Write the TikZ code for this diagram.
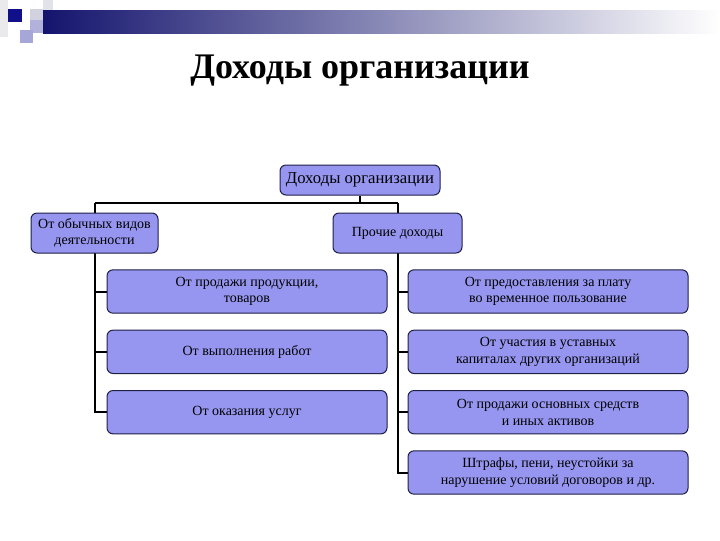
\documentclass[tikz,border=0pt]{standalone}
\usepackage{fontspec}
\setmainfont{Liberation Serif}
\usetikzlibrary{positioning, backgrounds}
\definecolor{barnavy}{RGB}{20, 20, 110}
\definecolor{boxfill}{RGB}{150, 150, 240}
\definecolor{boxline}{RGB}{30, 30, 70}
\tikzset{
  incomebox/.style={draw=boxline, line width=0.75pt, fill=boxfill,
    rounded corners=4.5pt, align=center, inner sep=0pt, text=black,
    font=\fontsize{10.5}{12.5}\selectfont},
  childbox/.style={incomebox, minimum width=210pt, minimum height=32.5pt},
  link/.style={draw=black, line width=1.5pt},
}

\begin{document}
\begin{tikzpicture}[x=0.75pt, y=-0.75pt]
\useasboundingbox (0,0) rectangle (720,540);

% Top bar and squares
\shade[left color=barnavy, right color=white] (43,10) rectangle (720,33);
\fill[blue!8!gray!15] (0,0) rectangle (8,37);
\fill[blue!20!gray!30] (30,9) rectangle (43,20);
\fill[blue!15!gray!20] (43,0) rectangle (53,10);
\fill[blue!35!gray!45] (30,20) rectangle (43,33);
\fill[blue!40!gray!50] (20,30) rectangle (33,43);
\fill[barnavy!80!blue] (8,9) rectangle (22,22);

% Title
\node[font=\fontsize{27}{30}\selectfont\bfseries] (title) at (360,71)
    {Доходы организации};

% Root and second level
\node[incomebox, minimum width=120pt, minimum height=22.5pt,
      font=\fontsize{12.5}{14}\selectfont] (root) at (360,180)
    {Доходы организации};
\node[incomebox, minimum width=95.25pt, minimum height=30pt] (ordinary)
    at (94.5,233) {От обычных видов\\деятельности};
\node[incomebox, minimum width=96.75pt, minimum height=30pt] (other)
    at (397.5,233) {Прочие доходы};

% Left column
\node[childbox] (sales) at (247,291.5) {От продажи продукции,\\товаров};
\node[childbox, below=12pt of sales] (works) {От выполнения работ};
\node[childbox, below=12pt of works] (services) {От оказания услуг};

% Right column
\node[childbox] (rent) at (548,291.5)
    {От предоставления за плату\\во временное пользование};
\node[childbox, below=12pt of rent] (shares)
    {От участия в уставных\\капиталах других организаций};
\node[childbox, below=12pt of shares] (assets)
    {От продажи основных средств\\и иных активов};
\node[childbox, below=12pt of assets] (penalties)
    {Штрафы, пени, неустойки за\\нарушение условий договоров и др.};

% Connectors
\coordinate (busL) at (95,203);
\coordinate (busR) at (398,203);
\begin{scope}[on background layer]
\draw[link] (root) -- (root |- busL);
\draw[link] (busL) -- (busR);
\draw[link] (busL) |- (services.west);
\draw[link] (busL |- sales.west) -- (sales.west);
\draw[link] (busL |- works.west) -- (works.west);
\draw[link] (busR) |- (penalties.west);
\draw[link] (busR |- rent.west) -- (rent.west);
\draw[link] (busR |- shares.west) -- (shares.west);
\draw[link] (busR |- assets.west) -- (assets.west);
\end{scope}

\end{tikzpicture}
\end{document}
